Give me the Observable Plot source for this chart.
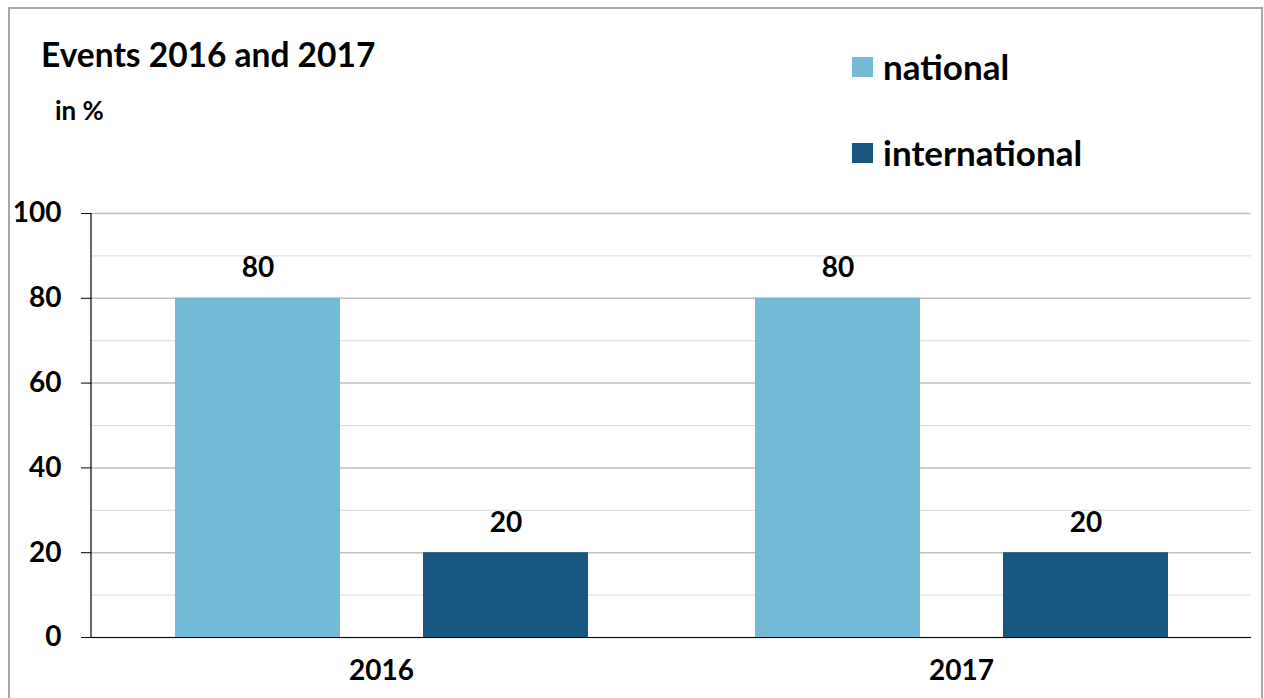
<!DOCTYPE html>
<html>
<head>
<meta charset="utf-8">
<script src="https://cdn.jsdelivr.net/npm/d3@7"></script>
<script src="https://cdn.jsdelivr.net/npm/@observablehq/plot@0.6"></script>
<style>
  html, body { margin: 0; padding: 0; background: #fff; width: 1264px; height: 698px; overflow: hidden; font-family: Lato, "Open Sans", sans-serif; }
  #frame { position: absolute; left: 8px; top: 7px; width: 1255px; height: 720px; border: 2px solid #a6a6a6; box-sizing: border-box; }
  #title { position: absolute; left: 41px; top: 38px; font-size: 33.5px; font-weight: 700; color: #000; line-height: 1; }
  #unit { position: absolute; left: 55px; top: 97px; font-size: 26px; font-weight: 700; color: #000; line-height: 1; }
  .leg { position: absolute; left: 852px; font-size: 35px; font-weight: 700; color: #000; line-height: 1; display: flex; align-items: center; }
  .leg span.sw { display: inline-block; width: 21px; height: 20px; margin-right: 10px; }
  #chart { position: absolute; left: 0; top: 190px; }
</style>
</head>
<body>
<div id="frame"></div>
<div id="title">Events 2016 and 2017</div>
<div id="unit">in %</div>
<div id="legend"></div>
<div id="chart"></div>
<script>
const years = ["2016", "2017"];
const types = ["national", "international"];
const national = [80, 80];
const international = [20, 20];
const colors = ["#74b9d6", "#17577f"];
const yMajor = [0, 20, 40, 60, 80, 100];
const yMinor = [10, 30, 50, 70, 90];

const data = years.flatMap((y, i) => [
  {year: y, type: types[0], value: national[i]},
  {year: y, type: types[1], value: international[i]}
]);

// legend
const legend = document.getElementById("legend");
const legTops = [49, 135];
types.forEach((t, i) => {
  const d = document.createElement("div");
  d.className = "leg";
  d.style.top = legTops[i] + "px";
  d.innerHTML = `<span class="sw" style="background:${colors[i]}"></span>${t}`;
  legend.appendChild(d);
});

const plot = Plot.plot({
  width: 1264,
  height: 508,
  marginLeft: 91,
  marginRight: 13,
  marginTop: 23,
  marginBottom: 61,
  style: {fontFamily: "Lato, 'Open Sans', sans-serif", background: "transparent", overflow: "visible"},
  fx: {domain: years, padding: 0, label: null, axis: null},
  x: {domain: types, padding: 0.335, axis: null},
  y: {domain: [0, 100], axis: null},
  color: {domain: types, range: colors},
  marks: [
    Plot.ruleY(yMinor, {stroke: "#d9d9d9", strokeWidth: 1}),
    Plot.ruleY(yMajor, {stroke: "#c0c0c0", strokeWidth: 1.5}),
    Plot.barY(data, {fx: "year", x: "type", y: "value", fill: "type"}),
    Plot.ruleY([0], {stroke: "#000", strokeWidth: 1.2}),
    Plot.text(data, {fx: "year", x: "type", y: "value", text: d => String(d.value), dy: -30, fontSize: 28, fontWeight: 700, fill: "#000"}),
    Plot.axisY({ticks: yMajor, tickSize: 10, tickPadding: 20, fontSize: 28, fontWeight: 700, color: "#000", stroke: "#000", label: null}),
    Plot.axisFx({anchor: "bottom", tickSize: 0, tickPadding: 23, fontSize: 28, fontWeight: 700, color: "#000", label: null})
  ]
});
document.getElementById("chart").appendChild(plot);

// vertical axis line drawn from the y scale
const ys = plot.scale("y");
const yPix0 = ys.apply(0), yPix100 = ys.apply(100);
d3.select(plot).append("line")
  .attr("x1", 91).attr("x2", 91)
  .attr("y1", yPix0).attr("y2", yPix100)
  .attr("stroke", "#000").attr("stroke-width", 1.2);
</script>
</body>
</html>
